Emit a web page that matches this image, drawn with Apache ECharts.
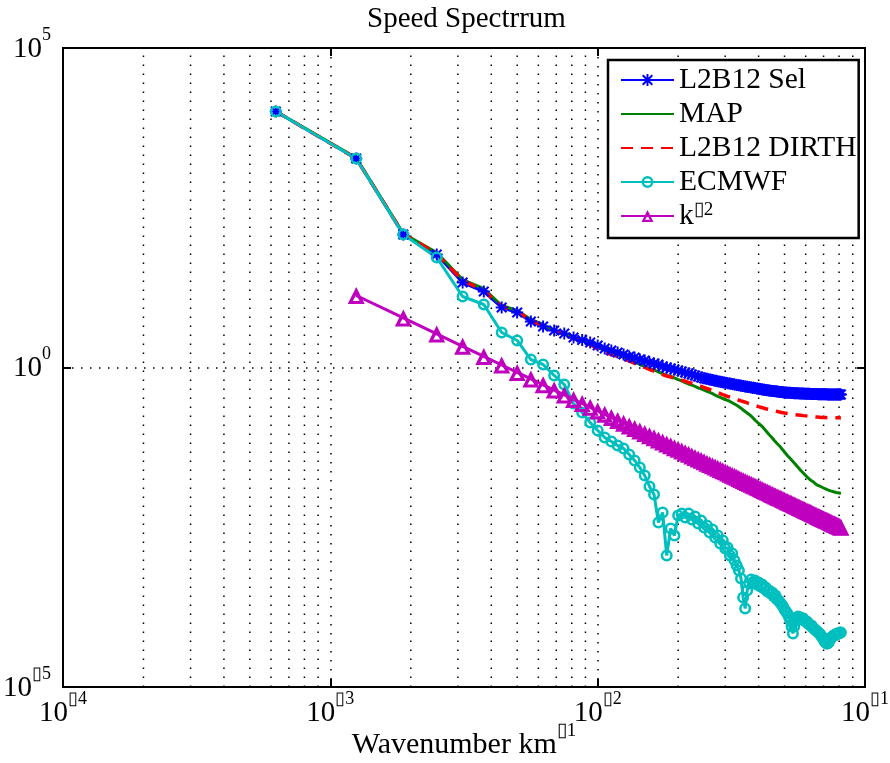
<!DOCTYPE html>
<html>
<head>
<meta charset="utf-8">
<script src="https://cdn.jsdelivr.net/npm/echarts@6/dist/echarts.min.js"></script>
<style>
html, body { margin: 0; padding: 0; background: #fff; }
#chart { width: 890px; height: 763px; }
</style>
</head>
<body>
<div id="chart"></div>
<script>
// Wavenumber grid (km^-1)
const wavenumber = [
  0.000625, 0.00125, 0.001875, 0.0025, 0.003125, 0.00375, 0.004375, 0.005, 0.005625, 0.00625,
  0.006875, 0.0075, 0.008125, 0.00875, 0.009375, 0.01, 0.010625, 0.01125, 0.011875, 0.0125,
  0.013125, 0.01375, 0.014375, 0.015, 0.015625, 0.01625, 0.016875, 0.0175, 0.018125, 0.01875,
  0.019375, 0.02, 0.020625, 0.02125, 0.021875, 0.0225, 0.023125, 0.02375, 0.024375, 0.025,
  0.025625, 0.02625, 0.026875, 0.0275, 0.028125, 0.02875, 0.029375, 0.03, 0.030625, 0.03125,
  0.031875, 0.0325, 0.033125, 0.03375, 0.034375, 0.035, 0.035625, 0.03625, 0.036875, 0.0375,
  0.038125, 0.03875, 0.039375, 0.04, 0.040625, 0.04125, 0.041875, 0.0425, 0.043125, 0.04375,
  0.044375, 0.045, 0.045625, 0.04625, 0.046875, 0.0475, 0.048125, 0.04875, 0.049375, 0.05,
  0.050625, 0.05125, 0.051875, 0.0525, 0.053125, 0.05375, 0.054375, 0.055, 0.055625, 0.05625,
  0.056875, 0.0575, 0.058125, 0.05875, 0.059375, 0.06, 0.060625, 0.06125, 0.061875, 0.0625,
  0.063125, 0.06375, 0.064375, 0.065, 0.065625, 0.06625, 0.066875, 0.0675, 0.068125, 0.06875,
  0.069375, 0.07, 0.070625, 0.07125, 0.071875, 0.0725, 0.073125, 0.07375, 0.074375, 0.075,
  0.075625, 0.07625, 0.076875, 0.0775, 0.078125, 0.07875, 0.079375, 0.08, 0.080625, 0.08125
];

// Spectral power, stored as log10 values
const selLog = [
  4.006, 3.271, 2.081, 1.768, 1.330, 1.189, 0.939, 0.861, 0.720, 0.642,
  0.579, 0.532, 0.470, 0.430, 0.391, 0.344, 0.297, 0.266, 0.235, 0.203,
  0.172, 0.156, 0.125, 0.110, 0.078, 0.063, 0.047, 0.016, 0.000, -0.016,
  -0.031, -0.047, -0.063, -0.078, -0.094, -0.110, -0.125, -0.141, -0.156, -0.169,
  -0.178, -0.188, -0.197, -0.207, -0.214, -0.222, -0.230, -0.238, -0.246, -0.252,
  -0.258, -0.266, -0.272, -0.279, -0.285, -0.290, -0.296, -0.302, -0.307, -0.313,
  -0.318, -0.322, -0.327, -0.333, -0.338, -0.343, -0.347, -0.352, -0.357, -0.360,
  -0.363, -0.366, -0.369, -0.372, -0.376, -0.379, -0.382, -0.385, -0.388, -0.391,
  -0.393, -0.394, -0.396, -0.397, -0.399, -0.401, -0.402, -0.402, -0.403, -0.404,
  -0.405, -0.406, -0.407, -0.408, -0.409, -0.410, -0.411, -0.411, -0.412, -0.413,
  -0.414, -0.414, -0.415, -0.415, -0.416, -0.416, -0.417, -0.417, -0.418, -0.418,
  -0.419, -0.419, -0.420, -0.420, -0.420, -0.421, -0.421, -0.421, -0.422, -0.422,
  -0.422, -0.422, -0.422, -0.422, -0.423, -0.423, -0.423, -0.423, -0.423, -0.422
];

const mapLog = [
  4.010, 3.280, 2.097, 1.800, 1.377, 1.236, 0.970, 0.892, 0.751, 0.673,
  0.579, 0.532, 0.470, 0.423, 0.376, 0.313, 0.274, 0.243, 0.203, 0.156,
  0.125, 0.086, 0.047, 0.016, -0.016, -0.039, -0.070, -0.094, -0.125, -0.141,
  -0.164, -0.188, -0.211, -0.235, -0.258, -0.277, -0.297, -0.318, -0.336, -0.354,
  -0.372, -0.390, -0.410, -0.432, -0.451, -0.469, -0.485, -0.501, -0.516, -0.532,
  -0.551, -0.571, -0.592, -0.613, -0.637, -0.665, -0.689, -0.712, -0.736, -0.759,
  -0.790, -0.822, -0.845, -0.876, -0.892, -0.923, -0.955, -0.986, -1.017, -1.049,
  -1.080, -1.103, -1.135, -1.158, -1.189, -1.213, -1.236, -1.268, -1.291, -1.322,
  -1.346, -1.377, -1.401, -1.424, -1.448, -1.471, -1.495, -1.518, -1.541, -1.565,
  -1.588, -1.612, -1.635, -1.651, -1.674, -1.690, -1.714, -1.729, -1.745, -1.761,
  -1.776, -1.784, -1.800, -1.815, -1.823, -1.839, -1.847, -1.854, -1.862, -1.870,
  -1.878, -1.886, -1.893, -1.901, -1.909, -1.914, -1.919, -1.925, -1.930, -1.934,
  -1.940, -1.945, -1.950, -1.953, -1.956, -1.959, -1.962, -1.965, -1.968, -1.972
];

const dirthLog = [
  4.006, 3.270, 2.090, 1.780, 1.362, 1.205, 0.955, 0.876, 0.736, 0.657,
  0.579, 0.516, 0.454, 0.407, 0.360, 0.290, 0.235, 0.203, 0.172, 0.133,
  0.102, 0.063, 0.031, 0.000, -0.031, -0.055, -0.078, -0.110, -0.133, -0.149,
  -0.164, -0.180, -0.199, -0.214, -0.232, -0.246, -0.261, -0.277, -0.294, -0.313,
  -0.329, -0.344, -0.360, -0.376, -0.391, -0.407, -0.423, -0.438, -0.451, -0.462,
  -0.474, -0.485, -0.501, -0.512, -0.523, -0.532, -0.543, -0.554, -0.563, -0.574,
  -0.584, -0.595, -0.604, -0.613, -0.621, -0.629, -0.637, -0.645, -0.651, -0.657,
  -0.665, -0.671, -0.678, -0.682, -0.689, -0.693, -0.698, -0.703, -0.707, -0.712,
  -0.717, -0.720, -0.723, -0.726, -0.729, -0.732, -0.736, -0.739, -0.740, -0.743,
  -0.745, -0.748, -0.751, -0.753, -0.756, -0.757, -0.761, -0.762, -0.764, -0.767,
  -0.768, -0.770, -0.772, -0.773, -0.775, -0.776, -0.778, -0.779, -0.781, -0.782,
  -0.783, -0.783, -0.784, -0.784, -0.785, -0.785, -0.786, -0.786, -0.786, -0.787,
  -0.787, -0.787, -0.787, -0.788, -0.788, -0.788, -0.788, -0.788, -0.789, -0.789
];

const ecmwfLog = [
  4.006, 3.271, 2.081, 1.721, 1.111, 0.986, 0.548, 0.423, 0.125, 0.047,
  -0.125, -0.266, -0.563, -0.704, -0.861, -0.986, -1.096, -1.158, -1.221, -1.268,
  -1.362, -1.455, -1.565, -1.690, -1.862, -1.987, -2.426, -2.269, -2.942, -2.520,
  -2.629, -2.316, -2.285, -2.348, -2.285, -2.379, -2.332, -2.441, -2.394, -2.504,
  -2.473, -2.582, -2.535, -2.660, -2.629, -2.754, -2.707, -2.833, -2.817, -2.942,
  -2.911, -3.020, -3.099, -3.177, -3.302, -3.600, -3.771, -3.490, -3.380, -3.318,
  -3.365, -3.333, -3.396, -3.365, -3.427, -3.396, -3.459, -3.443, -3.505, -3.490,
  -3.537, -3.521, -3.584, -3.568, -3.631, -3.646, -3.678, -3.709, -3.740, -3.787,
  -3.819, -3.850, -3.897, -3.959, -4.053, -4.163, -4.053, -3.959, -3.912, -3.897,
  -3.928, -3.912, -3.944, -3.928, -3.959, -3.975, -3.975, -4.006, -4.022, -4.038,
  -4.038, -4.069, -4.085, -4.100, -4.116, -4.132, -4.147, -4.163, -4.179, -4.210,
  -4.226, -4.257, -4.288, -4.304, -4.320, -4.320, -4.304, -4.273, -4.241, -4.226,
  -4.210, -4.194, -4.194, -4.179, -4.179, -4.163, -4.163, -4.163, -4.147, -4.147
];

// k^-2 reference slope, starting at the second wavenumber
const slopeLog = [
  1.127, 0.775, 0.525, 0.331, 0.173, 0.039, -0.077, -0.179, -0.271,
  -0.354, -0.429, -0.499, -0.563, -0.623, -0.679, -0.732, -0.782, -0.829, -0.873,
  -0.915, -0.956, -0.994, -1.031, -1.067, -1.101, -1.134, -1.165, -1.196, -1.225,
  -1.254, -1.281, -1.308, -1.334, -1.359, -1.384, -1.407, -1.431, -1.453, -1.475,
  -1.497, -1.517, -1.538, -1.558, -1.577, -1.597, -1.615, -1.633, -1.651, -1.669,
  -1.686, -1.703, -1.719, -1.736, -1.752, -1.767, -1.783, -1.798, -1.813, -1.827,
  -1.842, -1.856, -1.870, -1.883, -1.897, -1.910, -1.923, -1.936, -1.949, -1.961,
  -1.974, -1.986, -1.998, -2.009, -2.021, -2.033, -2.044, -2.055, -2.066, -2.077,
  -2.088, -2.099, -2.109, -2.120, -2.130, -2.140, -2.150, -2.160, -2.170, -2.179,
  -2.189, -2.199, -2.208, -2.217, -2.226, -2.236, -2.245, -2.253, -2.262, -2.271,
  -2.280, -2.288, -2.297, -2.305, -2.313, -2.322, -2.330, -2.338, -2.346, -2.354,
  -2.362, -2.369, -2.377, -2.385, -2.392, -2.400, -2.407, -2.415, -2.422, -2.429,
  -2.437, -2.444, -2.451, -2.458, -2.465, -2.472, -2.478, -2.485, -2.492, -2.499
];

const seriesNames = ['L2B12 Sel', 'MAP', 'L2B12 DIRTH', 'ECMWF', 'k\u25AF2'];

// Intermediate decade lines on the wavenumber axis
const minorGridX = [
  2e-4, 3e-4, 4e-4, 5e-4, 6e-4, 7e-4, 8e-4, 9e-4,
  2e-3, 3e-3, 4e-3, 5e-3, 6e-3, 7e-3, 8e-3, 9e-3,
  2e-2, 3e-2, 4e-2, 5e-2, 6e-2, 7e-2, 8e-2, 9e-2
];
const powerRange = [1e-5, 1e5];

const SERIF = "'Liberation Serif', 'Times New Roman', serif";
const MINUS = '\u25AF';
const dotted = { color: '#000', width: 1.5, type: [1.5, 7.5] };

function pairs(xs, logs) {
  return logs.map((l, i) => [xs[i], Math.pow(10, l)]);
}

function powerLabel(v) {
  const e = Math.round(Math.log10(v));
  return '{b|10}{s|' + (e < 0 ? MINUS + (-e) : String(e)) + '}';
}

const richSup = {
  b: { fontFamily: SERIF, fontSize: 29, lineHeight: 46, color: '#000' },
  s: { fontFamily: SERIF, fontSize: 18, lineHeight: 16, verticalAlign: 'top', color: '#000' }
};
const richName = {
  b: { fontFamily: SERIF, fontSize: 30, lineHeight: 46, color: '#000' },
  s: { fontFamily: SERIF, fontSize: 19, lineHeight: 16, verticalAlign: 'top', color: '#000' }
};

const ringPath = 'path://M10,0A10,10,0,1,1,10,20A10,10,0,1,1,10,0ZM10,4.2A5.8,5.8,0,1,0,10,15.8A5.8,5.8,0,1,0,10,4.2Z';
const starPath = 'path://M4.2,0H5.8V10H4.2ZM0,4.2H10V5.8H0ZM0.4,1.6L1.6,0.4L9.6,8.4L8.4,9.6ZM8.4,0.4L9.6,1.6L1.6,9.6L0.4,8.4Z';
const triPath = 'path://M10,0L20,18L0,18ZM10,8.5L6,14.8L14,14.8Z';

const gridSeries = minorGridX.map(x => ({
  type: 'line', silent: true, z: 1,
  data: [[x, powerRange[0]], [x, powerRange[1]]],
  symbol: 'none', lineStyle: dotted
}));

const chart = echarts.init(document.getElementById('chart'), null, { renderer: 'canvas' });

const hiddenMarker = { opacity: 0 };

chart.setOption({
  animation: false,
  backgroundColor: '#fff',
  title: {
    text: 'Speed Spectrrum',
    left: 362,
    top: 0,
    textStyle: { fontFamily: SERIF, fontSize: 29, fontWeight: 'normal', color: '#000' }
  },
  grid: {
    left: 63, right: 25, top: 48, bottom: 76,
    outerBoundsMode: 'none',
    show: true, borderColor: '#000', borderWidth: 2, backgroundColor: '#fff'
  },
  legend: {
    data: [
      { name: seriesNames[0] },
      { name: seriesNames[1], itemStyle: hiddenMarker },
      { name: seriesNames[2], itemStyle: hiddenMarker },
      { name: seriesNames[3] },
      { name: seriesNames[4] }
    ],
    orient: 'vertical',
    left: 608,
    top: 60,
    itemWidth: 53,
    itemHeight: 15,
    itemGap: 4,
    padding: [5, 2, 7, 12],
    backgroundColor: '#fff',
    borderColor: '#000',
    borderWidth: 2.5,
    selectedMode: false,
    formatter: function (name) {
      if (name.charAt(0) === 'k') return '{b|k}{s|' + name.slice(1) + '}';
      return '{b|' + name + '}';
    },
    textStyle: {
      rich: {
        b: { fontFamily: SERIF, fontSize: 29.5, lineHeight: 30, color: '#000' },
        s: { fontFamily: SERIF, fontSize: 19, lineHeight: 18, verticalAlign: 'top', color: '#000' }
      }
    }
  },
  xAxis: [{
    type: 'log', logBase: 10, min: 1e-4, max: 1e-1, interval: 1,
    position: 'bottom',
    axisLine: { show: true, lineStyle: { color: '#000', width: 2 } },
    axisTick: { show: true, inside: true, length: 8, lineStyle: { color: '#000', width: 2 } },
    axisLabel: { formatter: powerLabel, margin: 3, rich: richSup, showMinLabel: true, showMaxLabel: true, hideOverlap: false },
    splitLine: { show: true, lineStyle: dotted },
    name: '{b|Wavenumber km}{s|' + MINUS + '1}',
    nameLocation: 'middle',
    nameGap: 35,
    nameMoveOverlap: false,
    nameTextStyle: { rich: richName }
  }, {
    type: 'log', logBase: 10, min: 1e-4, max: 1e-1, interval: 1,
    position: 'top',
    axisLine: { show: true, lineStyle: { color: '#000', width: 2 } },
    axisTick: { show: true, inside: true, length: 8, lineStyle: { color: '#000', width: 2 } },
    axisLabel: { show: false },
    splitLine: { show: false }
  }],
  yAxis: [{
    type: 'log', logBase: 10, min: 1e-5, max: 1e5, interval: 5,
    position: 'left',
    axisLine: { show: true, lineStyle: { color: '#000', width: 2 } },
    axisTick: { show: true, inside: true, length: 8, lineStyle: { color: '#000', width: 2 } },
    axisLabel: { formatter: powerLabel, margin: 12, rich: richSup, padding: [2, 0, 0, 0] },
    splitLine: { show: true, lineStyle: dotted }
  }, {
    type: 'log', logBase: 10, min: 1e-5, max: 1e5, interval: 5,
    position: 'right',
    axisLine: { show: true, lineStyle: { color: '#000', width: 2 } },
    axisTick: { show: true, inside: true, length: 8, lineStyle: { color: '#000', width: 2 } },
    axisLabel: { show: false },
    splitLine: { show: false }
  }],
  series: gridSeries.concat([
    {
      name: seriesNames[0], type: 'line', z: 2,
      data: pairs(wavenumber, selLog),
      symbol: starPath, symbolSize: 12,
      itemStyle: { color: '#0000FF' },
      lineStyle: { color: '#0000FF', width: 3 }
    },
    {
      name: seriesNames[1], type: 'line', z: 2,
      data: pairs(wavenumber, mapLog),
      symbol: 'circle', showSymbol: false,
      itemStyle: { color: '#008000' },
      lineStyle: { color: '#008000', width: 3 }
    },
    {
      name: seriesNames[2], type: 'line', z: 2,
      data: pairs(wavenumber, dirthLog),
      symbol: 'circle', showSymbol: false,
      itemStyle: { color: '#FF0000' },
      lineStyle: { color: '#FF0000', width: 3.5, type: [12, 8] }
    },
    {
      name: seriesNames[3], type: 'line', z: 2,
      data: pairs(wavenumber, ecmwfLog),
      symbol: ringPath, symbolSize: 12,
      itemStyle: { color: '#00BFBF' },
      lineStyle: { color: '#00BFBF', width: 3 }
    },
    {
      name: seriesNames[4], type: 'line', z: 2,
      data: pairs(wavenumber.slice(1), slopeLog),
      symbol: triPath, symbolSize: 17,
      itemStyle: { color: '#BF00BF' },
      lineStyle: { color: '#BF00BF', width: 3 }
    }
  ])
});
</script>
</body>
</html>
